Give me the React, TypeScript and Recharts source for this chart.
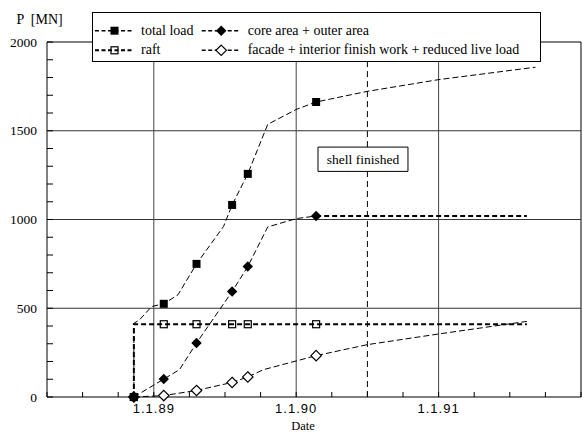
import React from "react";
import {
  ComposedChart,
  Line,
  XAxis,
  YAxis,
  ReferenceLine,
  ReferenceArea,
  Legend,
} from "recharts";

const SERIF = "Liberation Serif, Tinos, Times New Roman, DejaVu Serif, serif";
const SANS = "Liberation Sans, Arimo, Arial, sans-serif";

// measurement dates (decimal years), shared by every series
const MEASURE_DATES = [1988.86, 1989.07, 1989.3, 1989.55, 1989.66, 1990.14];

// measured loads [MN]
const TOTAL_MEASURED = [0, 525, 750, 1082, 1257, 1662];
const RAFT_MEASURED = [0, 410, 410, 410, 410, 410];
const CORE_MEASURED = [0, 101, 304, 594, 735, 1020];
const FACADE_MEASURED = [0, 8, 37, 82, 113, 233];

// unmarked bends of the dashed curves [date, load]
const TOTAL_KNOTS: [number, number][] = [
  [1988.86, 415],
  [1988.9, 435],
  [1988.985, 510],
  [1989.17, 576],
  [1989.49, 961],
  [1989.8, 1536],
  [1990.0, 1620],
  [1990.5, 1722],
  [1991.0, 1788],
  [1991.68, 1858],
];
const RAFT_KNOTS: [number, number][] = [
  [1988.86, 410],
  [1991.62, 410],
];
const CORE_KNOTS: [number, number][] = [
  [1989.18, 154],
  [1989.8, 958],
  [1990.0, 1005],
];
const CORE_TAIL: [number, number][] = [
  [1990.14, 1020],
  [1991.62, 1020],
];
const FACADE_KNOTS: [number, number][] = [
  [1989.77, 154],
  [1990.5, 295],
  [1991.0, 355],
  [1991.62, 426],
];

const X_TICKS = [
  1988.25, 1988.5, 1988.75, 1989, 1989.25, 1989.5, 1989.75, 1990, 1990.25,
  1990.5, 1990.75, 1991, 1991.25, 1991.5, 1991.75, 1992,
];
const X_LABEL_YEARS = [1989, 1990, 1991];
const X_LABELS = ["1.1.89", "1.1.90", "1.1.91"];

const Y_TICKS = [
  0, 100, 200, 300, 400, 500, 600, 700, 800, 900, 1000, 1100, 1200, 1300,
  1400, 1500, 1600, 1700, 1800, 1900, 2000,
];
const Y_LABELLED = [0, 500, 1000, 1500, 2000];

const SHELL_FINISHED = 1990.5;

type Pt = { x: number; y: number; m?: boolean };

function build(measured: number[], knots: [number, number][]): Pt[] {
  const pts: Pt[] = measured.map((v, i) => ({ x: MEASURE_DATES[i], y: v, m: true }));
  knots.forEach(([x, y]) => pts.push({ x, y }));
  return pts.sort((a, b) => a.x - b.x);
}

const totalData = build(TOTAL_MEASURED, TOTAL_KNOTS);
const raftData = build(RAFT_MEASURED, RAFT_KNOTS);
const coreData = build(CORE_MEASURED, CORE_KNOTS);
const coreTail = CORE_TAIL.map(([x, y]) => ({ x, y }));
const facadeData = build(FACADE_MEASURED, FACADE_KNOTS);

const serifText = (size: number): React.CSSProperties => ({
  fontFamily: SERIF,
  fontSize: size,
  fill: "#000",
});

type Shape = "square" | "openSquare" | "diamond" | "openDiamond";

function Marker({ shape, cx, cy }: { shape: Shape; cx: number; cy: number }) {
  if (shape === "square") {
    return <rect x={cx - 4} y={cy - 4} width={8} height={8} fill="#000" />;
  }
  if (shape === "openSquare") {
    return (
      <rect x={cx - 3.5} y={cy - 3.5} width={7} height={7} fill="none" stroke="#000" strokeWidth={1.2} />
    );
  }
  const r = 5.2;
  const pts = `${cx},${cy - r} ${cx + r},${cy} ${cx},${cy + r} ${cx - r},${cy}`;
  if (shape === "diamond") return <polygon points={pts} fill="#000" />;
  return <polygon points={pts} fill="#fff" stroke="#000" strokeWidth={1.2} />;
}

const dotFor = (shape: Shape) => (p: any) => {
  if (!p.payload || !p.payload.m) return <g key={`e${p.index}`} />;
  return (
    <g key={`d${p.index}`}>
      <Marker shape={shape} cx={p.cx} cy={p.cy} />
    </g>
  );
};

function LeftTick(p: any) {
  const v = p.payload.value;
  return (
    <g>
      <line x1={p.x} x2={p.x + 6} y1={p.y} y2={p.y} stroke="#000" />
      {Y_LABELLED.includes(v) && (
        <text x={p.x - 10} y={p.y + 4.7} textAnchor="end" style={serifText(13.5)}>
          {v}
        </text>
      )}
    </g>
  );
}

function RightTick(p: any) {
  return <line x1={p.x} x2={p.x - 6} y1={p.y} y2={p.y} stroke="#000" />;
}

function BottomTick(p: any) {
  const i = X_LABEL_YEARS.indexOf(p.payload.value);
  return (
    <g>
      <line x1={p.x} x2={p.x} y1={p.y} y2={p.y - 5} stroke="#000" />
      {i >= 0 && (
        <text
          x={p.x}
          y={p.y + 16}
          textAnchor="middle"
          style={{ fontFamily: SANS, fontSize: 13, letterSpacing: 1, fill: "#000" }}
        >
          {X_LABELS[i]}
        </text>
      )}
    </g>
  );
}

const LEGEND_ROWS: { shape: Shape; label: string; bold: boolean; col: number; row: number }[] = [
  { shape: "square", label: "total load", bold: false, col: 0, row: 0 },
  { shape: "openSquare", label: "raft", bold: true, col: 0, row: 1 },
  { shape: "diamond", label: "core area + outer area", bold: false, col: 1, row: 0 },
  { shape: "openDiamond", label: "facade + interior finish work + reduced live load", bold: false, col: 1, row: 1 },
];

function LegendBox() {
  const colX = [2, 108.7];
  const rowY = [17.7, 37.3];
  return (
    <div
      style={{
        width: 449,
        height: 50,
        boxSizing: "border-box",
        border: "1px solid #000",
        background: "#fff",
      }}
    >
      <svg width={447} height={48} style={{ display: "block" }}>
        {LEGEND_ROWS.map((r) => {
          const x0 = colX[r.col];
          const y = rowY[r.row];
          return (
            <g key={r.label}>
              <line
                x1={x0}
                x2={x0 + 39}
                y1={y}
                y2={y}
                stroke="#000"
                strokeWidth={r.bold ? 2 : 1.5}
                strokeDasharray="4 2.5"
              />
              <Marker shape={r.shape} cx={x0 + 19.5} cy={y} />
              <text x={x0 + 46} y={y + 4} style={serifText(14)}>
                {r.label}
              </text>
            </g>
          );
        })}
      </svg>
    </div>
  );
}

export default function App() {
  return (
    <div style={{ position: "absolute", left: 0, top: 0, width: 582, height: 432, background: "#fff" }}>
      <ComposedChart width={582} height={432} margin={{ top: 42, right: 1, bottom: 0, left: 0 }}>
        <XAxis
          dataKey="x"
          type="number"
          domain={[1988.25, 1992]}
          allowDataOverflow
          ticks={X_TICKS}
          interval={0}
          height={35}
          axisLine={false}
          tickLine={false}
          tickSize={0}
          tickMargin={0}
          tick={(p: any) => <BottomTick {...p} />}
          label={{
            content: () => (
              <text x={303} y={430} textAnchor="middle" style={serifText(12.5)}>
                Date
              </text>
            ),
          }}
        />
        <YAxis
          dataKey="y"
          type="number"
          domain={[0, 2000]}
          ticks={Y_TICKS}
          interval={0}
          width={47}
          axisLine={false}
          tickLine={false}
          tickSize={0}
          tickMargin={0}
          tick={(p: any) => <LeftTick {...p} />}
          label={{
            content: () => (
              <text x={16.5} y={23.5} style={{ ...serifText(14), whiteSpace: "pre" }}>
                {"P  [MN]"}
              </text>
            ),
          }}
        />
        <YAxis
          yAxisId="right"
          orientation="right"
          dataKey="y"
          type="number"
          domain={[0, 2000]}
          ticks={Y_TICKS}
          interval={0}
          width={0}
          axisLine={false}
          tickLine={false}
          tickSize={0}
          tickMargin={0}
          tick={(p: any) => <RightTick {...p} />}
        />

        {[500, 1000, 1500].map((v) => (
          <ReferenceLine key={`h${v}`} y={v} stroke="#333" />
        ))}
        {X_LABEL_YEARS.map((v) => (
          <ReferenceLine key={`v${v}`} x={v} stroke="#444" />
        ))}
        <ReferenceLine
          segment={[
            { x: SHELL_FINISHED, y: 0 },
            { x: SHELL_FINISHED, y: 1271 },
          ]}
          stroke="#000"
          strokeDasharray="6 4"
        />
        <ReferenceLine
          segment={[
            { x: SHELL_FINISHED, y: 1408 },
            { x: SHELL_FINISHED, y: 2000 },
          ]}
          stroke="#000"
          strokeDasharray="6 4"
        />
        <ReferenceArea
          x1={1990.153}
          x2={1990.785}
          y1={1271}
          y2={1408}
          fill="#fff"
          fillOpacity={1}
          stroke="#000"
          ifOverflow="visible"
          label={{ value: "shell finished", position: "center", style: serifText(13.5) }}
        />
        <ReferenceArea
          x1={1988.25}
          x2={1992}
          y1={0}
          y2={2000}
          fill="none"
          stroke="#000"
          ifOverflow="visible"
        />

        <Line
          data={facadeData}
          dataKey="y"
          type="linear"
          stroke="#000"
          strokeWidth={1}
          strokeDasharray="6 3"
          dot={dotFor("openDiamond")}
          activeDot={false}
          isAnimationActive={false}
        />
        <Line
          data={raftData}
          dataKey="y"
          type="linear"
          stroke="#000"
          strokeWidth={2}
          strokeDasharray="5 3"
          dot={dotFor("openSquare")}
          activeDot={false}
          isAnimationActive={false}
        />
        <Line
          data={coreTail}
          dataKey="y"
          type="linear"
          stroke="#000"
          strokeWidth={2}
          strokeDasharray="5 3"
          dot={false}
          activeDot={false}
          isAnimationActive={false}
        />
        <Line
          data={coreData}
          dataKey="y"
          type="linear"
          stroke="#000"
          strokeWidth={1}
          strokeDasharray="6 3"
          dot={dotFor("diamond")}
          activeDot={false}
          isAnimationActive={false}
        />
        <Line
          data={totalData}
          dataKey="y"
          type="linear"
          stroke="#000"
          strokeWidth={1}
          strokeDasharray="6 3"
          dot={dotFor("square")}
          activeDot={false}
          isAnimationActive={false}
        />

        <Legend
          layout="horizontal"
          verticalAlign="middle"
          align="center"
          wrapperStyle={{ left: 92, top: 12, width: 449, height: 50 }}
          content={() => <LegendBox />}
        />
      </ComposedChart>
    </div>
  );
}
